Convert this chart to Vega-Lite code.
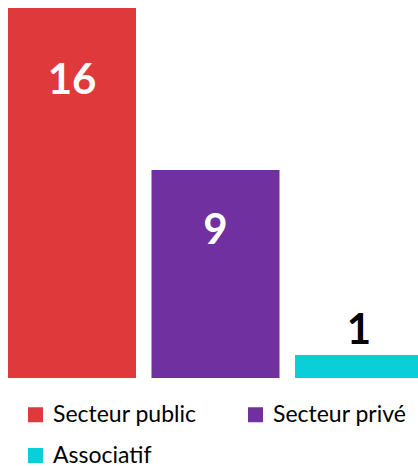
{
  "$schema": "https://vega.github.io/schema/vega-lite/v6.json",
  "width": 418,
  "height": 370,
  "autosize": "none",
  "padding": {"left": 0, "top": 8, "right": 0, "bottom": 88},
  "config": {"view": {"stroke": null}, "font": "Lato"},
  "data": {"values": [
    {"cat": "Secteur public", "n": 16},
    {"cat": "Secteur privé", "n": 9},
    {"cat": "Associatif", "n": 1}
  ]},
  "encoding": {
    "x": {"field": "cat", "type": "nominal", "sort": null, "axis": null,
          "scale": {"range": [0, 431], "paddingInner": 0.108, "paddingOuter": 0.0557}},
    "y": {"field": "n", "type": "quantitative", "axis": null, "scale": {"domain": [0, 16], "nice": false}}
  },
  "layer": [
    {
      "mark": {"type": "bar", "clip": true},
      "encoding": {
        "color": {"field": "cat", "type": "nominal", "sort": null,
          "scale": {"domain": ["Secteur public", "Secteur privé", "Associatif"], "range": ["#E0393B", "#7030A0", "#0ACFD8"]},
          "legend": {"orient": "none", "legendX": 24, "legendY": 395, "title": null, "columns": 2, "direction": "horizontal",
                     "symbolType": "square", "symbolSize": 225, "symbolStrokeWidth": 0, "symbolOpacity": 1,
                     "labelFontSize": 23, "labelColor": "#000", "labelOffset": 6, "labelFont": "Lato",
                     "columnPadding": 47, "rowPadding": 17, "padding": 0, "labelLimit": 300}}
      }
    },
    {
      "transform": [{"filter": "datum.cat == 'Secteur public'"}],
      "mark": {"type": "text", "color": "white", "fontWeight": "bold", "fontSize": 42, "baseline": "middle", "dy": 73},
      "encoding": {"text": {"field": "n", "type": "quantitative"}}
    },
    {
      "transform": [{"filter": "datum.cat == 'Secteur privé'"}],
      "mark": {"type": "text", "color": "white", "fontWeight": "bold", "fontSize": 42, "baseline": "middle", "dy": 61},
      "encoding": {"text": {"field": "n", "type": "quantitative"}}
    },
    {
      "transform": [{"filter": "datum.cat == 'Associatif'"}],
      "mark": {"type": "text", "color": "black", "fontWeight": "bold", "fontSize": 42, "baseline": "middle", "dy": -24},
      "encoding": {"text": {"field": "n", "type": "quantitative"}}
    }
  ]
}
